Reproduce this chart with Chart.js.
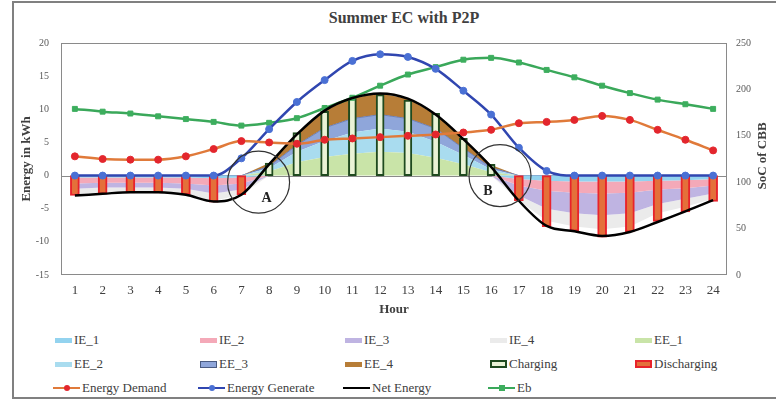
<!DOCTYPE html>
<html lang="en">

<head>
    <meta charset="UTF-8">
    <meta name="viewport" content="width=device-width, initial-scale=1.0">
    <title>Summer EC with P2P</title>

    <!-- Load Chart.js -->
    <script src="https://cdn.jsdelivr.net/npm/chart.js"></script>

    <style>
        body {
            margin: 0;
            background: #fff;
            overflow: hidden;
            font-family: 'Liberation Serif', 'Times New Roman', serif;
        }

        .frame {
            position: absolute;
            left: 12px;
            top: 1px;
            width: 800px;
            height: 394px;
            border: 2px solid #808080;
        }

        .chart-title {
            position: absolute;
            left: 12px;
            width: 784px;
            top: 8px;
            line-height: 20px;
            text-align: center;
            font-weight: bold;
            font-size: 16px;
            color: #404040;
        }

        #wrap {
            position: absolute;
            left: 0;
            top: 0;
            width: 776px;
            height: 322px;
        }

        .item {
            position: absolute;
            height: 18px;
            line-height: 18px;
            font-size: 13px;
            color: #404040;
            display: flex;
            align-items: center;
            white-space: nowrap;
        }

        .sw {
            position: relative;
            display: inline-block;
            box-sizing: border-box;
            margin-right: 2px;
        }

        .dot {
            position: absolute;
            left: 50%;
            top: 50%;
            width: 6px;
            height: 6px;
            margin: -3px 0 0 -3px;
            border-radius: 50%;
        }
    </style>
</head>

<body>

    <div class="frame"></div>
    <div class="chart-title">Summer EC with P2P</div>

    <div id="wrap">
        <canvas id="ecChart"></canvas>
    </div>
    <div id="legend"></div>

    <script>
        // ---- data ----
        const hours = ['1', '2', '3', '4', '5', '6', '7', '8', '9', '10', '11', '12',
            '13', '14', '15', '16', '17', '18', '19', '20', '21', '22', '23', '24'];

        // imported energy layers (negative stack)
        const ie1 = [-0.3, -0.3, -0.3, -0.3, -0.3, -0.4, -0.3, 0, 0, 0, 0, 0, 0, 0, 0, 0, -0.5, -0.8, -0.9, -0.9, -0.9, -0.8, -0.7, -0.5];
        const ie2 = [-0.9, -0.8, -0.8, -0.8, -0.9, -1.1, -0.9, 0, 0, 0, 0, 0, 0, 0, 0, 0, -1.0, -1.5, -1.7, -1.8, -1.7, -1.3, -1.2, -1.0];
        const ie3 = [-0.8, -0.7, -0.7, -0.7, -0.8, -1.2, -0.9, 0, 0, 0, 0, 0, 0, 0, 0, 0, -1.5, -2.7, -3.1, -3.3, -3.1, -2.2, -1.6, -1.2];
        const ie4 = [-0.8, -0.7, -0.6, -0.6, -0.8, -1.1, -0.8, 0, 0, 0, 0, 0, 0, 0, 0, 0, -0.8, -1.8, -2.0, -2.1, -2.0, -1.4, -1.2, -0.8];

        // exported energy layers (positive stack)
        const ee1 = [0, 0, 0, 0, 0, 0, 0, 0.6, 2.0, 2.8, 3.3, 3.6, 3.4, 2.7, 1.7, 0.5, 0, 0, 0, 0, 0, 0, 0, 0];
        const ee2 = [0, 0, 0, 0, 0, 0, 0, 0.5, 1.6, 2.4, 3.2, 3.5, 3.2, 2.4, 1.4, 0.4, 0, 0, 0, 0, 0, 0, 0, 0];
        const ee3 = [0, 0, 0, 0, 0, 0, 0, 0.3, 1.0, 2.0, 2.1, 2.1, 2.0, 2.0, 1.0, 0.3, 0, 0, 0, 0, 0, 0, 0, 0];
        const ee4 = [0, 0, 0, 0, 0, 0, 0, 0.5, 1.6, 2.6, 3.1, 3.2, 3.0, 2.1, 1.4, 0.4, 0, 0, 0, 0, 0, 0, 0, 0];

        const charging = [null, null, null, null, null, null, null, 1.9, 6.5, 9.7, 11.6, 12.2, 11.4, 9.4, 5.6, 1.7,
            null, null, null, null, null, null, null, null];
        const discharging = [-3.0, -2.8, -2.6, -2.6, -2.9, -4.0, -2.9, null, null, null, null, null, null, null, null, null,
            -3.8, -7.7, -8.4, -9.3, -8.5, -6.9, -5.5, -3.9];

        const demand = [2.9, 2.5, 2.4, 2.4, 2.9, 4.0, 5.2, 5.0, 4.8, 5.4, 5.6, 5.8, 6.0, 6.2, 6.5, 6.9, 7.9, 8.1, 8.4, 9.0, 8.4, 6.9, 5.4, 3.8];
        const generate = [0, 0, 0, 0, 0, 0, 2.6, 7.0, 11.1, 14.4, 17.3, 18.3, 17.9, 16.1, 12.8, 9.2, 4.2, 0.7, 0, 0, 0, 0, 0, 0];
        const netEnergy = [-3.0, -2.75, -2.5, -2.5, -2.9, -3.9, -2.9, 1.7, 6.2, 9.8, 11.7, 12.4, 11.6, 9.2, 5.5, 1.3, -3.8, -7.6, -8.4, -9.1, -8.5, -7.0, -5.4, -3.7];
        // SoC of CBB (right axis)
        const eb = [179, 176, 174, 171, 168, 165, 161, 164, 169, 180, 191, 204, 216, 224, 232, 234, 229, 221, 213, 204, 196, 189, 184, 179];

        const leftTicks = { min: -15, max: 20, step: 5 };
        const rightTicks = { min: 0, max: 250, step: 50 };

        // circled regions: hour position and energy value
        const callouts = [
            { label: 'A', hour: 7.62, value: -1.0 },
            { label: 'B', hour: 16.32, value: 0.0 }
        ];

        const serif = "'Liberation Serif', 'Times New Roman', serif";
        Chart.defaults.font.family = serif;

        function area(label, data, color, stack, fill) {
            return {
                type: 'line', label, data, yAxisID: 'ys', stack,
                backgroundColor: color, borderColor: color, borderWidth: 0,
                pointRadius: 0, tension: 0, fill, order: 2, kind: 'area'
            };
        }

        function bar(label, data, fill, border, thick) {
            return {
                type: 'bar', label, data, yAxisID: 'y', grouped: false,
                backgroundColor: fill, borderColor: border, borderWidth: 2,
                borderSkipped: false, barThickness: thick, order: 1, kind: 'bar'
            };
        }

        function line(label, data, color, pointColor, axis, style) {
            return {
                type: 'line', label, data, yAxisID: axis,
                borderColor: color, backgroundColor: pointColor, borderWidth: 2.5,
                pointRadius: pointColor ? 3.5 : 0, pointStyle: style || 'circle',
                pointBackgroundColor: pointColor, pointBorderColor: pointColor, pointBorderWidth: 1,
                cubicInterpolationMode: 'monotone', fill: false, order: 0, kind: 'line'
            };
        }

        const datasets = [
            area('IE_1', ie1, '#93d3ef', 'neg', 'origin'),
            area('IE_2', ie2, '#f4a9b8', 'neg', '-1'),
            area('IE_3', ie3, '#bfb4e2', 'neg', '-1'),
            area('IE_4', ie4, '#ebebeb', 'neg', '-1'),
            area('EE_1', ee1, '#c9e4a8', 'pos', 'origin'),
            area('EE_2', ee2, '#a9dcef', 'pos', '-1'),
            area('EE_3', ee3, '#8fa6da', 'pos', '-1'),
            area('EE_4', ee4, '#b77d37', 'pos', '-1'),
            bar('Charging', charging, '#eaf3d6', '#1f4a1f', 8),
            bar('Discharging', discharging, '#e4703a', '#e8232b', 9),
            line('Energy Demand', demand, '#e07a3a', '#e3262d', 'y'),
            line('Energy Generate', generate, '#3046b0', '#4a70d4', 'y'),
            line('Net Energy', netEnergy, '#000000', null, 'y'),
            line('Eb', eb, '#3aa85a', '#3dae5e', 'y1', 'rect')
        ];
        datasets[6].borderWidth = 1;
        datasets[6].borderColor = '#6f80b4';

        // plot frame, zero line, circled callouts, right axis title
        const decor = {
            id: 'decor',
            beforeDatasetsDraw(chart) {
                const { ctx, chartArea: a, scales: { y } } = chart;
                ctx.save();
                ctx.strokeStyle = '#8a8a8a';
                ctx.lineWidth = 1;
                ctx.strokeRect(a.left + 0.5, a.top + 0.5, a.width - 1, a.height - 1);
                const y0 = Math.round(y.getPixelForValue(0)) + 0.5;
                ctx.beginPath();
                ctx.moveTo(a.left, y0);
                ctx.lineTo(a.right, y0);
                ctx.stroke();
                ctx.restore();
            },
            afterDatasetsDraw(chart) {
                const { ctx, scales: { x, y } } = chart;
                ctx.save();
                ctx.strokeStyle = '#333';
                ctx.lineWidth = 1.2;
                ctx.fillStyle = '#222';
                ctx.font = 'bold 14px ' + serif;
                ctx.textAlign = 'center';
                ctx.textBaseline = 'middle';
                callouts.forEach(c => {
                    const cx = x.getPixelForValue(c.hour - 1);
                    const cy = y.getPixelForValue(c.value);
                    ctx.beginPath();
                    ctx.arc(cx, cy, 31, 0, Math.PI * 2);
                    ctx.stroke();
                    const dx = c.label === 'A' ? 8 : -12;
                    ctx.fillText(c.label, cx + dx, cy + 16);
                });
                ctx.restore();
            },
            afterDraw(chart) {
                const { ctx, chartArea: a } = chart;
                ctx.save();
                ctx.translate(a.right + 36, (a.top + a.bottom) / 2 - 3);
                ctx.rotate(-Math.PI / 2);
                ctx.font = 'bold 13px ' + serif;
                ctx.fillStyle = '#404040';
                ctx.textAlign = 'center';
                ctx.textBaseline = 'middle';
                ctx.fillText('SoC of CBB', 0, 0);
                ctx.restore();
            }
        };

        const chart = new Chart(document.getElementById('ecChart'), {
            type: 'line',
            data: { labels: hours, datasets },
            options: {
                responsive: true,
                maintainAspectRatio: false,
                animation: false,
                layout: { padding: { left: 14, top: 43, right: 0, bottom: 0 } },
                plugins: {
                    legend: { display: false },
                    title: { display: false },
                    tooltip: { enabled: false }
                },
                scales: {
                    x: {
                        offset: true,
                        grid: { display: false, drawTicks: false },
                        border: { display: false },
                        ticks: { color: '#404040', font: { size: 13 }, padding: 8, maxRotation: 0, autoSkip: false },
                        title: {
                            display: true, text: 'Hour', color: '#404040',
                            font: { size: 13, weight: 'bold' }, padding: { top: 0, bottom: 5 }
                        },
                        afterFit: s => { s.height = 47; }
                    },
                    y: {
                        position: 'left',
                        min: leftTicks.min, max: leftTicks.max,
                        grid: { display: false, drawTicks: false },
                        border: { display: false },
                        ticks: { stepSize: leftTicks.step, color: '#595959', font: { size: 10 }, padding: 12 },
                        title: {
                            display: true, text: 'Energy in kWh', color: '#404040',
                            font: { size: 13, weight: 'bold' }, padding: { top: 5, bottom: 0 }
                        },
                        afterFit: s => { s.width = 47; }
                    },
                    ys: {
                        display: false,
                        stacked: true,
                        min: leftTicks.min, max: leftTicks.max
                    },
                    y1: {
                        position: 'right',
                        min: rightTicks.min, max: rightTicks.max,
                        grid: { display: false, drawTicks: false },
                        border: { display: false },
                        ticks: { stepSize: rightTicks.step, color: '#595959', font: { size: 10 }, padding: 9 },
                        afterFit: s => { s.width = 49; }
                    }
                }
            },
            plugins: [decor]
        });

        // legend laid out as in the figure: five columns, three rows
        const legendBox = document.getElementById('legend');
        datasets.forEach((ds, i) => {
            const item = document.createElement('div');
            item.className = 'item';
            const sw = document.createElement('span');
            sw.className = 'sw';
            let left = 55 + (i % 5) * 145;
            if (ds.kind === 'area') {
                sw.style.width = '17px';
                sw.style.height = ds.label === 'EE_3' ? '7px' : '5px';
                sw.style.background = ds.backgroundColor;
                if (ds.label === 'EE_3') sw.style.border = '1px solid #4a5a80';
            } else if (ds.kind === 'bar') {
                sw.style.width = '17px';
                sw.style.height = '8px';
                sw.style.background = ds.backgroundColor;
                sw.style.border = '2px solid ' + ds.borderColor;
            } else {
                left -= 2;
                sw.style.width = '27px';
                sw.style.height = '2.5px';
                sw.style.background = ds.borderColor;
                if (ds.pointBackgroundColor) {
                    const dot = document.createElement('span');
                    dot.className = 'dot';
                    dot.style.background = ds.pointBackgroundColor;
                    if (ds.pointStyle === 'rect') dot.style.borderRadius = '0';
                    sw.appendChild(dot);
                }
            }
            item.style.left = left + 'px';
            item.style.top = (331 + Math.floor(i / 5) * 24) + 'px';
            item.appendChild(sw);
            item.appendChild(document.createTextNode(ds.label));
            legendBox.appendChild(item);
        });
    </script>

</body>

</html>
